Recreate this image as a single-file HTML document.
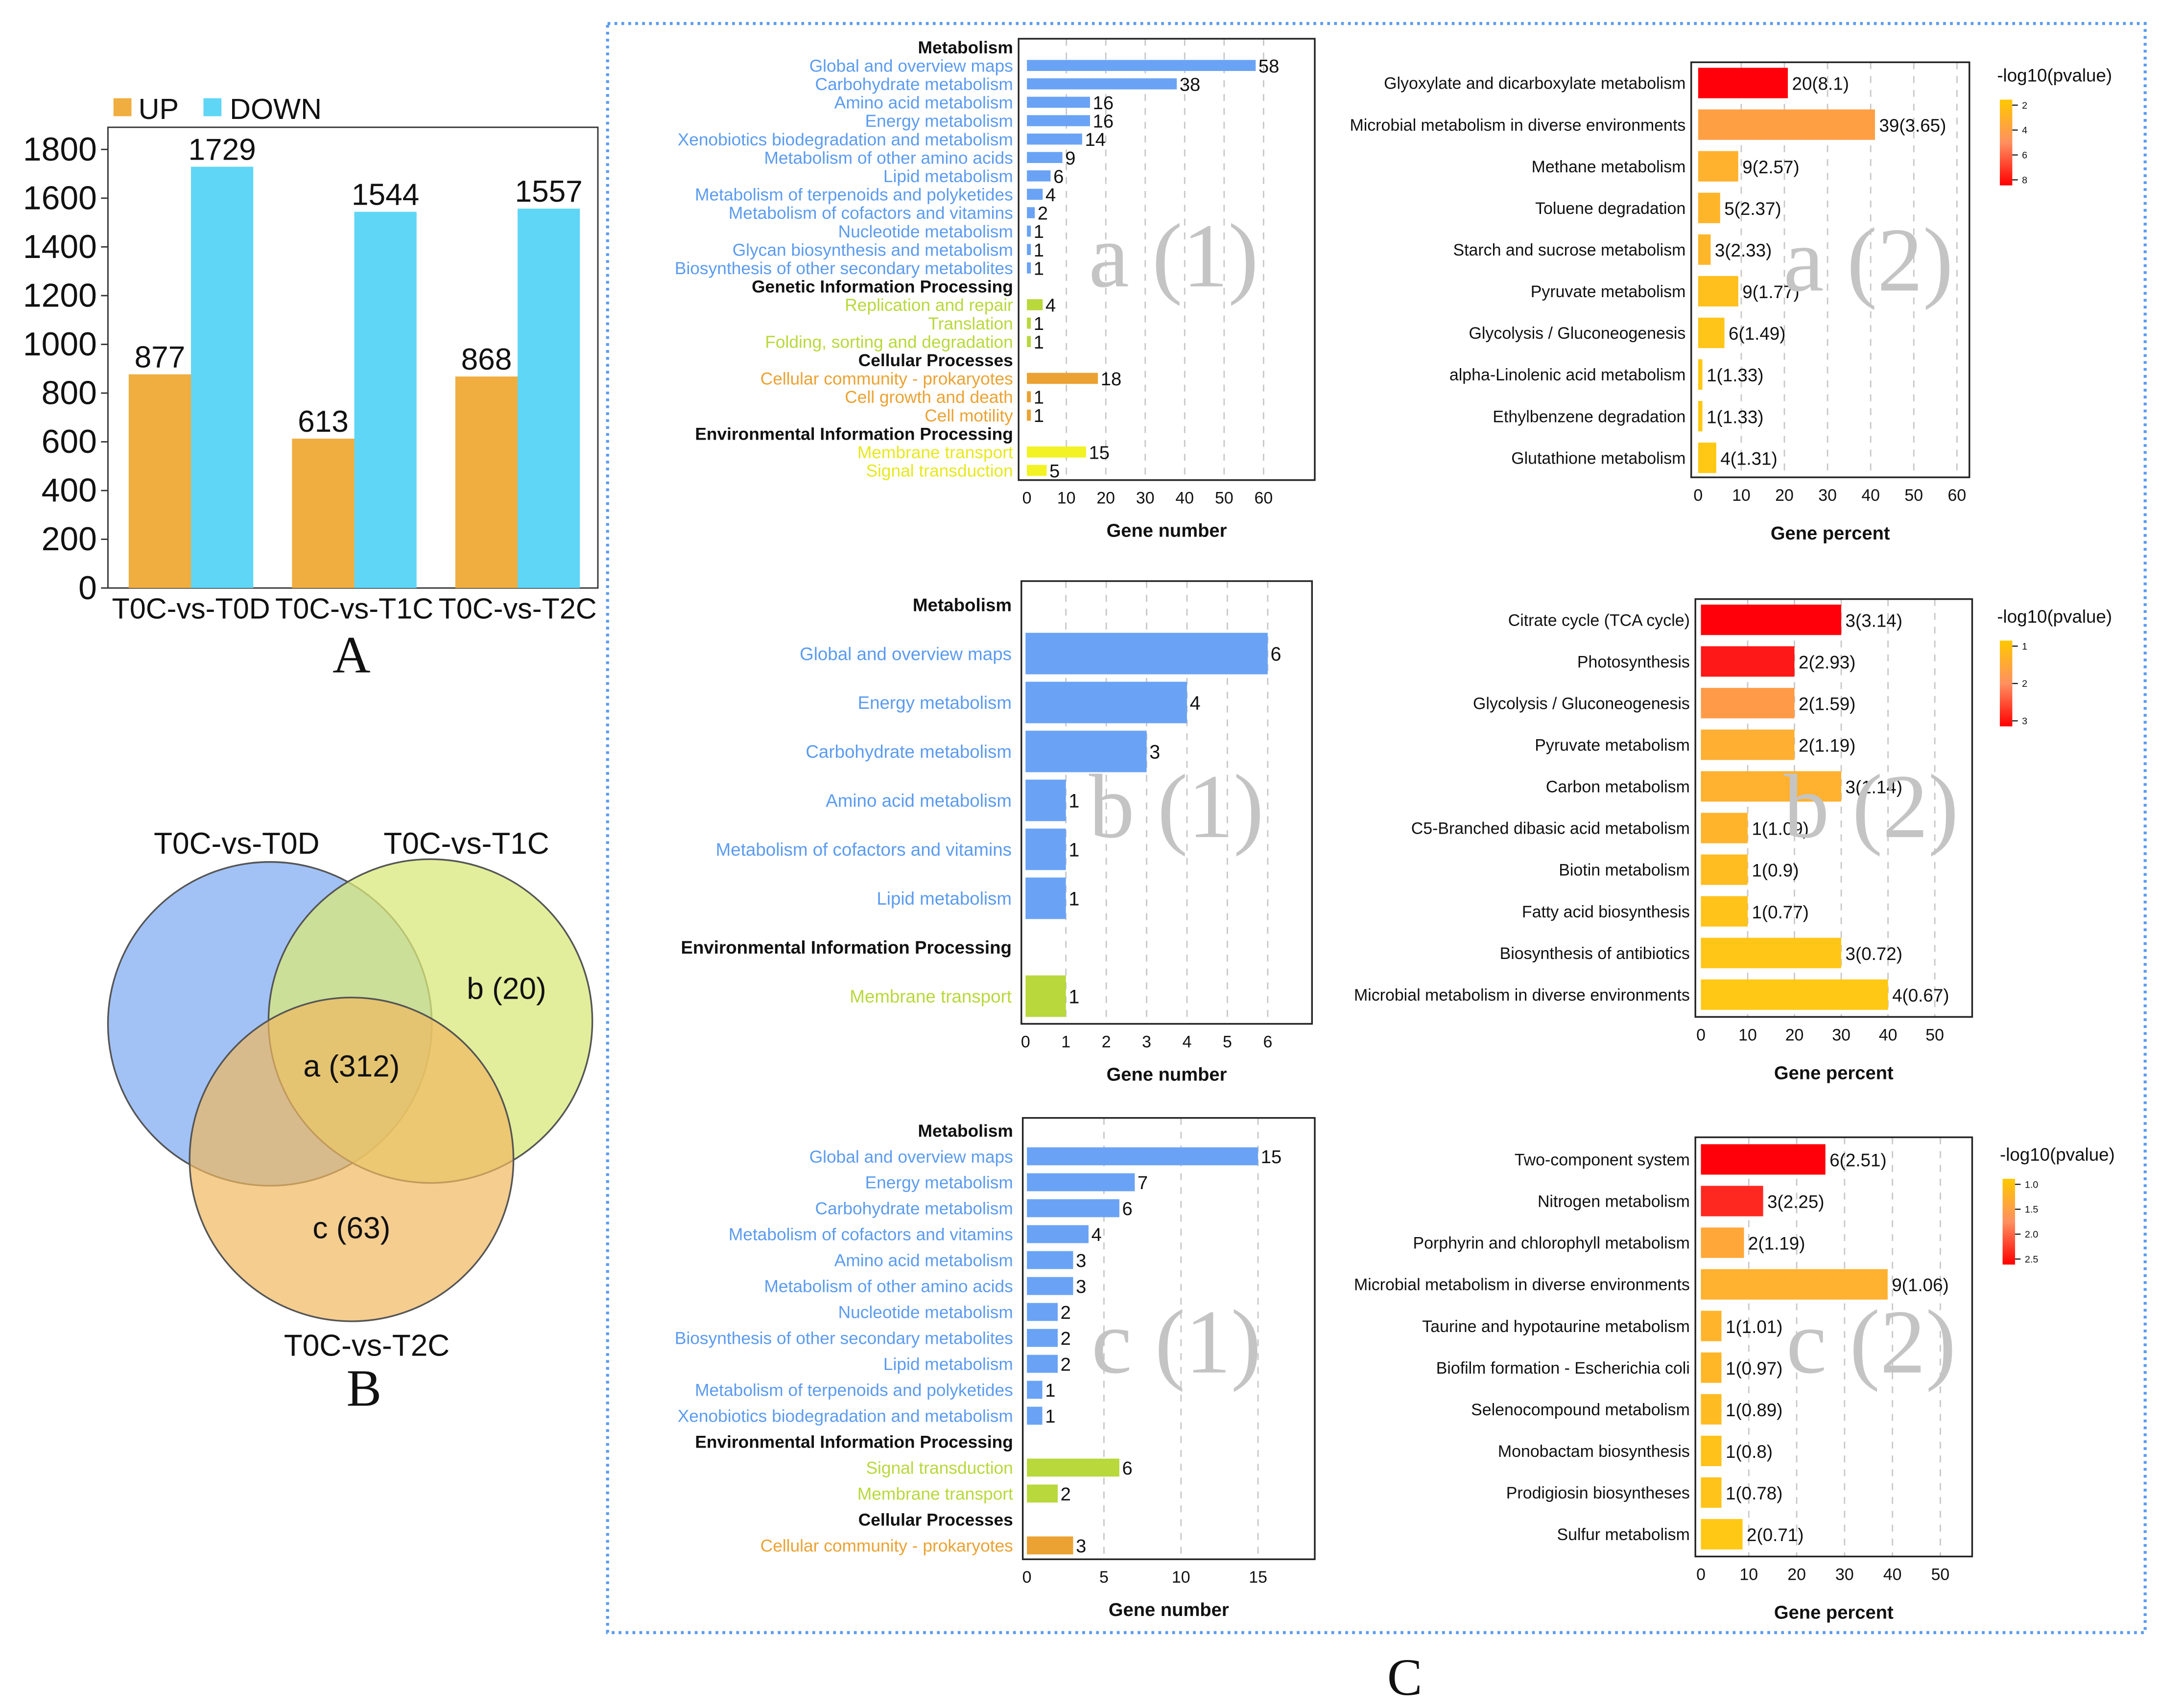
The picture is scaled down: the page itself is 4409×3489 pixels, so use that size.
<!DOCTYPE html>
<html><head><meta charset="utf-8"><style>
html,body{margin:0;padding:0;background:#fff;}
svg{display:block;font-family:"Liberation Sans",Arial,sans-serif;}
</style></head><body>
<svg id="fig" xmlns="http://www.w3.org/2000/svg" width="4409" height="3489" viewBox="0 0 1560 1234.5" preserveAspectRatio="none">
<rect x="0" y="0" width="1560" height="1234.5" fill="#fff"/>
</svg>
<script>
// ===== Panel A data =====
const catA=['T0C-vs-T0D','T0C-vs-T1C','T0C-vs-T2C'];
const upA=[877,613,868];
const downA=[1729,1544,1557];
const ticksA=[0,200,400,600,800,1000,1200,1400,1600,1800];
// ===== a(1) =====
const a1Labels=['Metabolism','Global and overview maps','Carbohydrate metabolism','Amino acid metabolism','Energy metabolism','Xenobiotics biodegradation and metabolism','Metabolism of other amino acids','Lipid metabolism','Metabolism of terpenoids and polyketides','Metabolism of cofactors and vitamins','Nucleotide metabolism','Glycan biosynthesis and metabolism','Biosynthesis of other secondary metabolites','Genetic Information Processing','Replication and repair','Translation','Folding, sorting and degradation','Cellular Processes','Cellular community - prokaryotes','Cell growth and death','Cell motility','Environmental Information Processing','Membrane transport','Signal transduction'];
const a1Values=[null,58,38,16,16,14,9,6,4,2,1,1,1,null,4,1,1,null,18,1,1,null,15,5];
const a1Groups=['h','b','b','b','b','b','b','b','b','b','b','b','b','h','g','g','g','h','o','o','o','h','y','y'];
const a1Ticks=[0,10,20,30,40,50,60];
// ===== b(1) =====
const b1Labels=['Metabolism','Global and overview maps','Energy metabolism','Carbohydrate metabolism','Amino acid metabolism','Metabolism of cofactors and vitamins','Lipid metabolism','Environmental Information Processing','Membrane transport'];
const b1Values=[null,6,4,3,1,1,1,null,1];
const b1Groups=['h','b','b','b','b','b','b','h','g'];
const b1Ticks=[0,1,2,3,4,5,6];
// ===== c(1) =====
const c1Labels=['Metabolism','Global and overview maps','Energy metabolism','Carbohydrate metabolism','Metabolism of cofactors and vitamins','Amino acid metabolism','Metabolism of other amino acids','Nucleotide metabolism','Biosynthesis of other secondary metabolites','Lipid metabolism','Metabolism of terpenoids and polyketides','Xenobiotics biodegradation and metabolism','Environmental Information Processing','Signal transduction','Membrane transport','Cellular Processes','Cellular community - prokaryotes'];
const c1Values=[null,15,7,6,4,3,3,2,2,2,1,1,null,6,2,null,3];
const c1Groups=['h','b','b','b','b','b','b','b','b','b','b','b','h','g','g','h','o'];
const c1Ticks=[0,5,10,15];
// ===== a(2) =====
const a2Labels=['Glyoxylate and dicarboxylate metabolism','Microbial metabolism in diverse environments','Methane metabolism','Toluene degradation','Starch and sucrose metabolism','Pyruvate metabolism','Glycolysis / Gluconeogenesis','alpha-Linolenic acid metabolism','Ethylbenzene degradation','Glutathione metabolism'];
const a2Counts=[20,39,9,5,3,9,6,1,1,4];
const a2Percent=[20.8,41,9.3,5.1,2.9,9.3,6.1,1,1,4.2];
const a2P=[8.1,3.65,2.57,2.37,2.33,1.77,1.49,1.33,1.33,1.31];
const a2Ticks=[0,10,20,30,40,50,60];
const a2Cbar=['2','4','6','8'];
// ===== b(2) =====
const b2Labels=['Citrate cycle (TCA cycle)','Photosynthesis','Glycolysis / Gluconeogenesis','Pyruvate metabolism','Carbon metabolism','C5-Branched dibasic acid metabolism','Biotin metabolism','Fatty acid biosynthesis','Biosynthesis of antibiotics','Microbial metabolism in diverse environments'];
const b2Counts=[3,2,2,2,3,1,1,1,3,4];
const b2Percent=[30,20,20,20,30,10,10,10,30,40];
const b2P=[3.14,2.93,1.59,1.19,1.14,1.09,0.9,0.77,0.72,0.67];
const b2Ticks=[0,10,20,30,40,50];
const b2Cbar=['1','2','3'];
// ===== c(2) =====
const c2Labels=['Two-component system','Nitrogen metabolism','Porphyrin and chlorophyll metabolism','Microbial metabolism in diverse environments','Taurine and hypotaurine metabolism','Biofilm formation - Escherichia coli','Selenocompound metabolism','Monobactam biosynthesis','Prodigiosin biosyntheses','Sulfur metabolism'];
const c2Counts=[6,3,2,9,1,1,1,1,1,2];
const c2Percent=[26,13,9,39,4.3,4.3,4.3,4.3,4.3,8.7];
const c2P=[2.51,2.25,1.19,1.06,1.01,0.97,0.89,0.8,0.78,0.71];
const c2Ticks=[0,10,20,30,40,50];
const c2Cbar=['1.0','1.5','2.0','2.5'];

const NS='http://www.w3.org/2000/svg';
const svg=document.getElementById('fig');
const SERIF='font-family:"Liberation Serif",serif';
function mk(tag,attrs,parent,txt){const e=document.createElementNS(NS,tag);for(const k in attrs)e.setAttribute(k,attrs[k]);if(txt!==undefined)e.textContent=txt;(parent||svg).appendChild(e);return e;}

// ---------- Panel A ----------
(function(){
  const g=mk('g',{});
  
  
  const x0=78,x1=432,yTop=92,yBot=425,y1800=108;
  const ys=v=>yBot-(v/1800)*(yBot-y1800);
  const box=mk('rect',{x:x0,y:yTop,width:x1-x0,height:yBot-yTop,fill:'none',stroke:'#333','stroke-width':1},g);
  
  
  ticksA.forEach(t=>{
    const tl=mk('text',{x:70,y:ys(t)+8,'text-anchor':'end','font-size':24,fill:'#111'},g,String(t));
    
    
    mk('line',{x1:x0-5,x2:x0,y1:ys(t),y2:ys(t),stroke:'#333'},g);
  });
  const groupW=118,bw=45;
  catA.forEach((c,i)=>{
    const cx=138+i*groupW;
    const bu=mk('rect',{x:cx-bw,y:ys(upA[i]),width:bw,height:yBot-ys(upA[i]),fill:'#f0ad40'},g);
    
    
    const bd=mk('rect',{x:cx,y:ys(downA[i]),width:bw,height:yBot-ys(downA[i]),fill:'#5fd6f5'},g);
    
    
    const lu=mk('text',{x:cx-bw/2,y:ys(upA[i])-5,'text-anchor':'middle','font-size':22,fill:'#111'},g,String(upA[i]));
    
    
    const ld=mk('text',{x:cx+bw/2,y:ys(downA[i])-5,'text-anchor':'middle','font-size':22,fill:'#111'},g,String(downA[i]));
    
    
    const xl=mk('text',{x:cx,y:447,'text-anchor':'middle','font-size':21,fill:'#111'},g,c);
    
    
  });
  const l1=mk('rect',{x:82,y:71,width:13,height:13,fill:'#f0ad40'},g);
  
  
  const lt1=mk('text',{x:100,y:86,'font-size':21,fill:'#111'},g,'UP');
  
  
  const l2=mk('rect',{x:147,y:71,width:13,height:13,fill:'#5fd6f5'},g);
  
  
  const lt2=mk('text',{x:166,y:86,'font-size':21,fill:'#111'},g,'DOWN');
  
  
  const pl=mk('text',{x:254,y:486,'text-anchor':'middle','font-size':38,style:SERIF,fill:'#111'},g,'A');
  
  
})();

// ---------- Panel B Venn ----------
(function(){
  const g=mk('g',{});
  
  
  const c1=mk('circle',{cx:195,cy:740,r:117,fill:'#9dbff5','fill-opacity':0.95,stroke:'#555','stroke-width':1.2},g);
  
  
  const c2=mk('circle',{cx:311,cy:738,r:117,fill:'#d8e87a','fill-opacity':0.75,stroke:'#555','stroke-width':1.2},g);
  
  
  const c3=mk('circle',{cx:254,cy:838,r:117,fill:'#f0b860','fill-opacity':0.7,stroke:'#555','stroke-width':1.2},g);
  
  
  [['T0C-vs-T0D',171,617,'set-label-t0d'],['T0C-vs-T1C',337,617,'set-label-t1c'],['T0C-vs-T2C',265,980,'set-label-t2c'],['a (312)',254,778,'region-label-a'],['b (20)',366,722,'region-label-b'],['c (63)',254,895,'region-label-c']].forEach(d=>{
    const t=mk('text',{x:d[1],y:d[2],'text-anchor':'middle','font-size':22,fill:'#111'},g,d[0]);
    
    
  });
  const pl=mk('text',{x:263,y:1016,'text-anchor':'middle','font-size':38,style:SERIF,fill:'#111'},g,'B');
  
  
})();

// ---------- Panel C frame ----------
(function(){
  const r=mk('rect',{x:439,y:17,width:1111,height:1163,fill:'none',stroke:'#5b9bf0','stroke-width':2.2,'stroke-dasharray':'2 3'});
  
  
  const pl=mk('text',{x:1015,y:1225,'text-anchor':'middle','font-size':38,style:SERIF,fill:'#111'});
  pl.textContent='C';
  
  
})();

const grpFill={b:'#6aa3f5',g:'#b8d83c',o:'#eba232',y:'#f2f224'};
const grpText={b:'#5b9bf0',g:'#b8d83c',o:'#eba232',y:'#e8e820'};

function wm(txt,x,y,name,g){
  const t=mk('text',{x:x,y:y,'text-anchor':'middle','font-size':66,style:SERIF,fill:'#c4c4c4'},g,txt);
  
  
}

function countPanel(o){
  const g=mk('g',{});
  
  
  const xs=v=>o.x0+(v/o.tmax)*(o.x60-o.x0);
  o.ticks.forEach(t=>{
    if(t>0)mk('line',{x1:xs(t),x2:xs(t),y1:o.top,y2:o.bot,stroke:'#c8c8c8','stroke-dasharray':'5 5'},g);
    const tl=mk('text',{x:xs(t),y:o.bot+17,'text-anchor':'middle','font-size':12,fill:'#111'},g,String(t));
    
    
  });
  const n=o.labels.length;
  const step=(o.yLast-o.yFirst)/(n-1);
  o.labels.forEach((lab,i)=>{
    const y=o.yFirst+i*step;
    const grp=o.groups[i];
    const hdr=grp==='h';
    const t=mk('text',{x:o.lx,y:y+o.fs*0.36,'text-anchor':'end','font-size':o.fs,'font-weight':hdr?'bold':'normal',fill:hdr?'#111':grpText[grp]},g,lab);
    
    
    const v=o.values[i];
    if(v!==null){
      const b=mk('rect',{x:o.x0,y:y-o.bh/2,width:xs(v)-o.x0,height:o.bh,fill:grpFill[grp]},g);
      
      
      const vl=mk('text',{x:xs(v)+2,y:y+o.fs*0.4,'font-size':o.fs+1,fill:'#111'},g,String(v));
      
      
    }
  });
  const fr=mk('rect',{x:o.bx0,y:o.top,width:o.bx1-o.bx0,height:o.bot-o.top,fill:'none',stroke:'#222','stroke-width':1.2},g);
  
  
  const at=mk('text',{x:(o.bx0+o.bx1)/2,y:o.bot+41,'text-anchor':'middle','font-size':13.5,'font-weight':'bold',fill:'#111'},g,'Gene number');
  
  
  wm(o.wm,o.wmx,o.wmy,'watermark-label',g);
}

function pColor(p,min,max){
  let t=(p-min)/(max-min);t=Math.max(0,Math.min(1,t));
  let r,g,b;
  if(t<0.5){const u=t/0.5;r=255;g=200-60*u;b=20+70*u;}
  else{const u=(t-0.5)/0.5;r=255;g=140-140*u;b=90-80*u;}
  return 'rgb('+Math.round(r)+','+Math.round(g)+','+Math.round(b)+')';
}

function pctPanel(o){
  const g=mk('g',{});
  
  
  const xs=v=>o.x0+(v/o.tmax)*(o.xmax-o.x0);
  o.ticks.forEach(t=>{
    if(t>0)mk('line',{x1:xs(t),x2:xs(t),y1:o.top,y2:o.bot,stroke:'#c8c8c8','stroke-dasharray':'5 5'},g);
    const tl=mk('text',{x:xs(t),y:o.bot+17,'text-anchor':'middle','font-size':12,fill:'#111'},g,String(t));
    
    
  });
  const step=30.1;
  const pmin=Math.min(...o.p),pmax=Math.max(...o.p);
  o.labels.forEach((lab,i)=>{
    const y=o.yFirst+i*step;
    const t=mk('text',{x:o.bx0-4,y:y+4.3,'text-anchor':'end','font-size':12,fill:'#111'},g,lab);
    
    
    const b=mk('rect',{x:o.x0,y:y-11,width:xs(o.pct[i])-o.x0,height:22,fill:pColor(o.p[i],pmin,pmax)},g);
    
    
    const vl=mk('text',{x:xs(o.pct[i])+3,y:y+5,'font-size':13,fill:'#111'},g,o.counts[i]+'('+o.p[i]+')');
    
    
  });
  const fr=mk('rect',{x:o.bx0,y:o.top,width:o.bx1-o.bx0,height:o.bot-o.top,fill:'none',stroke:'#222','stroke-width':1.2},g);
  
  
  const at=mk('text',{x:(o.bx0+o.bx1)/2,y:o.bot+45,'text-anchor':'middle','font-size':13.5,'font-weight':'bold',fill:'#111'},g,'Gene percent');
  
  
  const lg=mk('g',{},g);
  
  
  const id='grad'+o.name;
  const defs=mk('defs',{},lg);
  const gr=mk('linearGradient',{id:id,x1:0,y1:0,x2:0,y2:1},defs);
  mk('stop',{offset:'0','stop-color':'#ffc800'},gr);
  mk('stop',{offset:'0.5','stop-color':'#ff9060'},gr);
  mk('stop',{offset:'1','stop-color':'#ff0000'},gr);
  const lt=mk('text',{x:o.cbx-2,y:o.cby-13,'font-size':13,fill:'#111'},lg,'-log10(pvalue)');
  
  
  mk('rect',{x:o.cbx,y:o.cby,width:9,height:62,fill:'url(#'+id+')'},lg);
  const n=o.cbar.length;
  o.cbar.forEach((c,i)=>{
    const yy=o.cby+4+i*(54/(n-1));
    mk('line',{x1:o.cbx+9,x2:o.cbx+13,y1:yy,y2:yy,stroke:'#111','stroke-width':0.8},lg);
    const ct=mk('text',{x:o.cbx+16,y:yy+2.5,'font-size':7,fill:'#111'},lg,c);
    
    
  });
  wm(o.wm,o.wmx,o.wmy,'watermark-label',g);
}

countPanel({name:'panel-a1-chart',labels:a1Labels,values:a1Values,groups:a1Groups,ticks:a1Ticks,tmax:60,x0:742,x60:913,bx0:736,bx1:950,top:28,bot:347,yFirst:34,yLast:340,lx:732,fs:12.5,bh:8,wm:'a (1)',wmx:848,wmy:207});
countPanel({name:'panel-b1-chart',labels:b1Labels,values:b1Values,groups:b1Groups,ticks:b1Ticks,tmax:6,x0:741,x60:916,bx0:738,bx1:948,top:420,bot:740,yFirst:437,yLast:720,lx:731,fs:13,bh:30,wm:'b (1)',wmx:850,wmy:605});
countPanel({name:'panel-c1-chart',labels:c1Labels,values:c1Values,groups:c1Groups,ticks:c1Ticks,tmax:15,x0:742,x60:909,bx0:739,bx1:950,top:808,bot:1127,yFirst:817,yLast:1117,lx:732,fs:12.5,bh:13,wm:'c (1)',wmx:850,wmy:992});

pctPanel({name:'panel-a2-chart',labels:a2Labels,counts:a2Counts,pct:a2Percent,p:a2P,ticks:a2Ticks,tmax:60,x0:1227,xmax:1414,bx0:1222,bx1:1423,top:45,bot:345,yFirst:60,cbx:1445,cby:72,cbar:a2Cbar,wm:'a (2)',wmx:1350,wmy:210});
pctPanel({name:'panel-b2-chart',labels:b2Labels,counts:b2Counts,pct:b2Percent,p:b2P,ticks:b2Ticks,tmax:50,x0:1229,xmax:1398,bx0:1225,bx1:1425,top:433,bot:735,yFirst:448,cbx:1445,cby:463,cbar:b2Cbar,wm:'b (2)',wmx:1352,wmy:605});
pctPanel({name:'panel-c2-chart',labels:c2Labels,counts:c2Counts,pct:c2Percent,p:c2P,ticks:c2Ticks,tmax:50,x0:1229,xmax:1402,bx0:1225,bx1:1425,top:822,bot:1125,yFirst:838,cbx:1447,cby:852,cbar:c2Cbar,wm:'c (2)',wmx:1352,wmy:992});
</script>
</body></html>
